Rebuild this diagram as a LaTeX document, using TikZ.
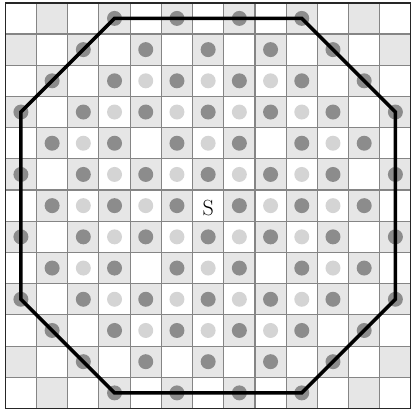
\documentclass[tikz,border=0pt]{standalone}
\usepackage{tikz}
\usetikzlibrary{positioning}

\definecolor{cellgray}{HTML}{E6E6E6}
\definecolor{linegray}{HTML}{858585}
\definecolor{darkdot}{HTML}{8C8C8C}
\definecolor{lightdot}{HTML}{D4D4D4}

\tikzset{
    gridline/.style={draw=linegray, line width=1pt},
    darkmark/.style={fill=darkdot},
    lightmark/.style={fill=lightdot},
    octline/.style={draw=black, line width=3.2pt},
    every node/.style={align=center}
}

\begin{document}
\begin{tikzpicture}[x=1cm, y=1cm]

    \useasboundingbox (-0.17,-0.08) rectangle (13.0,13.09);

    % Checkerboard cells (row 0 at top)
    \foreach \r in {0,...,12}
        \foreach \c in {0,...,12} {
            \pgfmathtruncatemacro\oddcell{mod(\c+\r,2)}
            \ifnum\oddcell=1
                \fill[cellgray] (\c,12-\r) rectangle ++(1,1);
            \fi
        }

    % Grid
    \foreach \i in {1,...,12} {
        \draw[gridline] (\i,0) -- (\i,13);
        \draw[gridline] (0,\i) -- (13,\i);
    }
    \draw[black!85, line width=1.3pt] (0,0) rectangle (13,13);

    % Light dots
    \foreach \r/\cols in {2/{4,6,8}, 3/{3,5,7,9}, 4/{2,6,10}, 5/{3,5,7,9},
                          6/{2,4,8,10}, 7/{3,5,7,9}, 8/{2,6,10}, 9/{3,5,7,9},
                          10/{4,6,8}}
        \foreach \c in \cols
            \fill[lightmark] (\c+0.5,12.5-\r) circle (0.24);

    % Dark dots
    \foreach \r/\cols in {0/{3,5,7,9}, 1/{2,4,6,8,10}, 2/{1,3,5,7,9,11},
                          3/{0,2,4,6,8,10,12}, 4/{1,3,5,7,9,11},
                          5/{0,2,4,6,8,10,12}, 6/{1,3,5,7,9,11},
                          7/{0,2,4,6,8,10,12}, 8/{1,3,5,7,9,11},
                          9/{0,2,4,6,8,10,12}, 10/{1,3,5,7,9,11},
                          11/{2,4,6,8,10}, 12/{3,5,7,9}}
        \foreach \c in \cols
            \fill[darkmark] (\c+0.5,12.5-\r) circle (0.24);

    % Octagon corners
    \coordinate (ntw) at (3.5,12.5);
    \coordinate (nte) at (9.5,12.5);
    \coordinate (ent) at (12.5,9.5);
    \coordinate (ens) at (12.5,3.5);
    \coordinate (ste) at (9.5,0.5);
    \coordinate (stw) at (3.5,0.5);
    \coordinate (wst) at (0.5,3.5);
    \coordinate (wnt) at (0.5,9.5);

    \draw[octline] (ntw) -- (nte) -- (ent) -- (ens) -- (ste) -- (stw) -- (wst) -- (wnt) -- cycle;

    % Start
    \node[font=\fontsize{20}{24}\selectfont] (s) at (6.5,6.42) {S};

\end{tikzpicture}
\end{document}
